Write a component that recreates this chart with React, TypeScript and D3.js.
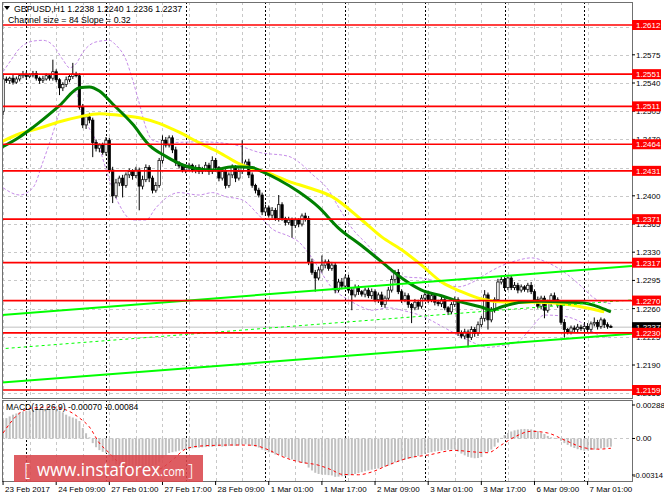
import * as d3 from 'd3'

// GBPUSD H1, 23 Feb 2017 17:00 .. 7 Mar 2017 07:00 (bar index 0..183)
const firstOpen = 1.2505
const closes = [
  1.2545, 1.2543, 1.2546, 1.2541, 1.2545, 1.2549, 1.2551, 1.2548, 1.2550, 1.2552,
  1.2546, 1.2543, 1.2545, 1.2549, 1.2546, 1.2554, 1.2544, 1.2534, 1.2538, 1.2544,
  1.2548, 1.2551, 1.2549, 1.2510, 1.2488, 1.2498, 1.2494, 1.2466, 1.2459, 1.2463,
  1.2454, 1.2469, 1.2432, 1.2400, 1.2416, 1.2422, 1.2413, 1.2426, 1.2430, 1.2425,
  1.2432, 1.2412, 1.2420, 1.2435, 1.2422, 1.2407, 1.2413, 1.2444, 1.2469, 1.2463,
  1.2472, 1.2457, 1.2441, 1.2437, 1.2432, 1.2435, 1.2438, 1.2432, 1.2435, 1.2430,
  1.2433, 1.2438, 1.2430, 1.2444, 1.2435, 1.2422, 1.2430, 1.2413, 1.2426, 1.2435,
  1.2422, 1.2430, 1.2438, 1.2442, 1.2426, 1.2413, 1.2407, 1.2401, 1.2380, 1.2385,
  1.2376, 1.2382, 1.2372, 1.2389, 1.2372, 1.2367, 1.2370, 1.2363, 1.2370, 1.2365,
  1.2375, 1.2372, 1.2318, 1.2305, 1.2298, 1.2308, 1.2314, 1.2318, 1.2310, 1.2314,
  1.2283, 1.2293, 1.2288, 1.2298, 1.2283, 1.2277, 1.2286, 1.2281, 1.2278, 1.2283,
  1.2276, 1.2281, 1.2271, 1.2277, 1.2265, 1.2273, 1.2283, 1.2296, 1.2305, 1.2281,
  1.2271, 1.2276, 1.2265, 1.2261, 1.2268, 1.2263, 1.2273, 1.2277, 1.2271, 1.2276,
  1.2268, 1.2266, 1.2271, 1.2261, 1.2256, 1.2265, 1.2271, 1.2230, 1.2226, 1.2231,
  1.2224, 1.2234, 1.2229, 1.2240, 1.2248, 1.2277, 1.2246, 1.2258, 1.2271, 1.2293,
  1.2296, 1.2286, 1.2298, 1.2286, 1.2289, 1.2283, 1.2287, 1.2284, 1.2289, 1.2281,
  1.2271, 1.2263, 1.2273, 1.2258, 1.2267, 1.2276, 1.2271, 1.2265, 1.2243, 1.2234,
  1.2231, 1.2236, 1.2234, 1.2237, 1.2235, 1.2238, 1.2234, 1.2241, 1.2243, 1.2238,
  1.2246, 1.2240, 1.2238, 1.2237,
]
// wick lengths above / below the body, in pips
const upWick = [
  7, 3, 2, 4, 3, 2, 4, 3, 2, 3, 3, 2, 4, 3, 2, 15, 3, 2, 3, 4,
  3, 14, 3, 3, 4, 3, 5, 3, 4, 2, 3, 4, 3, 4, 5, 3, 4, 3, 4, 3,
  4, 3, 5, 4, 3, 3, 4, 3, 6, 4, 3, 3, 4, 2, 3, 4, 3, 2, 3, 4,
  3, 4, 3, 5, 3, 2, 4, 3, 3, 4, 3, 4, 31, 3, 4, 3, 2, 3, 3, 4,
  3, 4, 3, 12, 3, 2, 4, 3, 3, 2, 3, 4, 3, 4, 3, 4, 12, 3, 3, 4,
  3, 4, 5, 3, 4, 3, 4, 3, 2, 3, 3, 4, 3, 3, 4, 3, 4, 5, 3, 4,
  3, 4, 3, 2, 4, 3, 4, 3, 3, 4, 3, 3, 4, 3, 2, 3, 4, 3, 3, 4,
  3, 4, 3, 4, 3, 6, 3, 4, 3, 4, 4, 3, 2, 3, 4, 3, 3, 2, 3, 4,
  3, 4, 3, 3, 4, 3, 4, 3, 3, 4, 2, 3, 3, 4, 3, 3, 4, 3, 6, 3,
  3, 2, 3, 2,
]
const downWick = [
  5, 3, 4, 3, 2, 3, 3, 4, 2, 3, 3, 4, 3, 2, 3, 3, 3, 9, 4, 3,
  3, 3, 2, 3, 4, 5, 4, 18, 4, 5, 3, 4, 4, 9, 3, 4, 15, 3, 4, 5,
  3, 30, 4, 3, 5, 4, 3, 3, 4, 3, 3, 4, 4, 3, 3, 4, 3, 3, 4, 3,
  3, 3, 4, 3, 5, 4, 3, 4, 3, 4, 5, 3, 3, 3, 4, 3, 4, 3, 4, 5,
  3, 4, 3, 4, 3, 4, 3, 15, 3, 4, 3, 4, 4, 3, 17, 3, 3, 4, 3, 3,
  4, 3, 4, 3, 4, 19, 3, 4, 3, 4, 3, 4, 3, 4, 3, 4, 3, 3, 4, 3,
  4, 3, 4, 19, 3, 4, 3, 3, 4, 3, 4, 3, 4, 3, 4, 3, 3, 4, 3, 4,
  12, 3, 4, 3, 3, 4, 12, 3, 3, 4, 3, 4, 3, 3, 3, 4, 3, 3, 4, 3,
  4, 3, 4, 10, 3, 4, 3, 4, 3, 10, 3, 3, 4, 3, 3, 3, 4, 3, 3, 4,
  3, 4, 3, 1,
]

const priceTicks = [1.2610, 1.2575, 1.2540, 1.2505, 1.2470, 1.2435, 1.2400, 1.2365, 1.2330, 1.2295, 1.2260, 1.2225, 1.2190, 1.2155]
const levels = [1.2612, 1.2551, 1.2511, 1.2464, 1.2431, 1.2371, 1.2317, 1.2270, 1.2230, 1.2159]
const lastPrice = 1.2237
const dateLabels = ['23 Feb 2017', '24 Feb 09:00', '27 Feb 01:00', '27 Feb 17:00', '28 Feb 09:00', '1 Mar 01:00', '1 Mar 17:00', '2 Mar 09:00', '3 Mar 01:00', '3 Mar 17:00', '6 Mar 09:00', '7 Mar 01:00']
const daySeparators = [7, 31, 55, 79, 103, 127, 151, 175]

// [bar, price] readings of the moving averages
const greenMA: [number, number][] = [
  [-1, 1.2459], [5, 1.2473], [9, 1.2485], [17, 1.2512], [23, 1.2534], [26, 1.2535], [29, 1.2530],
  [33, 1.2514], [39, 1.2489], [44, 1.2463], [49, 1.2449], [55, 1.2437], [63, 1.2432], [69, 1.2436],
  [75, 1.2435], [78, 1.2430], [83, 1.2420], [89, 1.2405], [95, 1.2386], [101, 1.2360], [108, 1.2338],
  [114, 1.2318], [120, 1.2298], [126, 1.2283], [132, 1.2276], [138, 1.2268], [144, 1.2262], [147, 1.2258],
  [150, 1.2262], [156, 1.2268], [162, 1.2269], [170, 1.2268], [175, 1.2267], [180, 1.2261], [183, 1.2256],
]
const yellowMA: [number, number][] = [
  [-1, 1.2466], [5, 1.2477], [11, 1.2484], [17, 1.2492], [23, 1.2498], [29, 1.2502], [35, 1.2500],
  [41, 1.2497], [47, 1.2490], [53, 1.2479], [59, 1.2466], [65, 1.2454], [71, 1.2440], [80, 1.2428],
  [86, 1.2418], [92, 1.2410], [99, 1.2399], [108, 1.2370], [114, 1.2349], [120, 1.2333], [126, 1.2314],
  [132, 1.2293], [138, 1.2281], [144, 1.2272], [152, 1.2268], [160, 1.2268], [166, 1.2267], [172, 1.2264],
  [178, 1.2259], [181, 1.2256],
]
// [bar, price] readings of the dashed envelope bands
const bandUpper: [number, number][] = [
  [0, 1.2554], [2, 1.2566], [5, 1.2583], [9, 1.2592], [12, 1.2593], [15, 1.2587], [18, 1.2569], [20, 1.2559],
  [22, 1.2564], [24, 1.2578], [28, 1.2591], [32, 1.2593], [34, 1.2587], [37, 1.2569], [39, 1.2544], [41, 1.2515],
  [43, 1.2485], [45, 1.2469], [49, 1.2466], [59, 1.2467], [65, 1.2466], [71, 1.2462], [77, 1.2454], [86, 1.2449],
  [89, 1.2442], [93, 1.2427], [98, 1.2407], [101, 1.2386], [105, 1.2360], [110, 1.2338], [114, 1.2318], [117, 1.2305],
  [122, 1.2299], [126, 1.2298], [132, 1.2292], [137, 1.2287], [141, 1.2292], [145, 1.2302], [150, 1.2313], [155, 1.2320],
  [159, 1.2323], [164, 1.2317], [170, 1.2302], [174, 1.2288], [178, 1.2273], [183, 1.2266],
]
const bandLower: [number, number][] = [
  [0, 1.2410], [5, 1.2401], [9, 1.2410], [12, 1.2442], [15, 1.2478], [17, 1.2504], [19, 1.2523], [22, 1.2529],
  [23, 1.2513], [25, 1.2492], [29, 1.2459], [32, 1.2420], [35, 1.2389], [39, 1.2370], [43, 1.2370], [46, 1.2385],
  [49, 1.2397], [53, 1.2404], [59, 1.2401], [63, 1.2404], [67, 1.2399], [72, 1.2395], [77, 1.2376], [81, 1.2359],
  [86, 1.2350], [89, 1.2343], [93, 1.2323], [99, 1.2286], [104, 1.2271], [108, 1.2262], [111, 1.2258], [116, 1.2261],
  [120, 1.2258], [126, 1.2251], [133, 1.2236], [138, 1.2225], [142, 1.2217], [146, 1.2212], [150, 1.2214], [155, 1.2219],
  [159, 1.2236], [163, 1.2252], [168, 1.2251], [174, 1.2243], [178, 1.2230], [183, 1.2224],
]
// regression channel, end points at bars -1 and 190
const channelBars = [-1, 190]
const channelUpper = [1.2252, 1.2313]
const channelMid = [1.2210, 1.2271]
const channelLower = [1.2168, 1.2229]

// MACD(12,26,9) histogram, in 0.00001
const macdHist = [
  160, 175, 190, 205, 215, 225, 232, 238, 242, 246, 250, 252, 254, 255, 254, 252, 248, 240, 225, 205,
  190, 180, 170, 150, 90, 45, 10, -40, -75, -100, -115, -125, -150, -195, -225, -245, -260, -268, -270, -268,
  -262, -265, -262, -255, -245, -238, -228, -205, -170, -145, -125, -118, -112, -105, -98, -92, -88, -84, -80, -78,
  -76, -74, -70, -72, -68, -66, -70, -68, -64, -62, -64, -60, -52, -50, -55, -62, -70, -78, -95, -105,
  -118, -125, -138, -140, -150, -160, -170, -180, -190, -200, -210, -215, -250, -275, -295, -305, -310, -312, -315, -318,
  -330, -328, -325, -322, -318, -312, -305, -298, -290, -282, -275, -268, -262, -258, -250, -242, -235, -222, -205, -200,
  -190, -182, -175, -170, -160, -150, -140, -132, -124, -118, -112, -108, -104, -100, -98, -96, -95, -112, -130, -145,
  -158, -165, -170, -168, -160, -120, -115, -95, -70, -35, 5, 30, 48, 60, 70, 76, 80, 82, 80, 78,
  72, 64, 50, 38, 22, 10, 5, -2, -20, -40, -55, -70, -82, -92, -100, -105, -102, -98, -95, -90,
  -85, -80, -75, -70,
]
const macdSignal: [number, number][] = [
  [0, 47], [5, 219], [9, 262], [14, 270], [19, 245], [23, 176], [26, 99], [29, -39], [32, -125], [35, -211],
  [39, -262], [43, -285], [47, -265], [51, -185], [55, -90], [59, -66], [65, -58], [69, -56], [75, -58], [80, -99],
  [84, -155], [89, -200], [95, -230], [99, -271], [102, -308], [107, -312], [111, -288], [116, -228], [122, -168],
  [128, -142], [136, -102], [141, -114], [146, -122], [150, -56], [154, 13], [159, 62], [164, 47], [169, -13],
  [175, -80], [179, -92], [183, -84],
]
const macdTicks = [0.00288, 0, -0.00314]

const FONT = '"Liberation Sans", Arial, sans-serif'
const L = 2, R = 632, TOP = 2, MAIN_B = 398, M_TOP = 400, M_B = 481

export default function App() {
  const x = d3.scaleLinear().domain([7, 175]).range([26.3, 584.3])
  const y = d3.scaleLinear().domain([1.2159, 1.2612]).range([390, 25])
  const ym = d3.scaleLinear().domain([-0.00314, 0.00288]).range([475, 405])
  const pip = 0.0001

  const bars = closes.map((c, i) => {
    const o = i === 0 ? firstOpen : closes[i - 1]
    const hi = Math.max(o, c) + upWick[i] * pip
    const lo = Math.min(o, c) - downWick[i] * pip
    return { i, o, c, hi, lo }
  })

  const line = d3.line<[number, number]>().x(d => x(d[0])).y(d => y(d[1])).curve(d3.curveMonotoneX)
  const macdLine = d3.line<[number, number]>().x(d => x(d[0])).y(d => ym(d[1] / 100000)).curve(d3.curveMonotoneX)
  const chan = (p: number[]) => d3.line<number>().x((_, k) => x(channelBars[k])).y(d => y(d))(p) as string

  const gridBars = d3.range(0, 184, 8)
  const zero = ym(0)

  return (
    <svg width={664} height={498} style={{ position: 'absolute', left: 0, top: 0, display: 'block', background: '#fff' }}
      fontFamily={FONT}>
      <defs>
        <clipPath id="main"><rect x={L} y={TOP} width={R - L} height={MAIN_B - TOP} /></clipPath>
        <clipPath id="macd"><rect x={L} y={M_TOP} width={R - L} height={M_B - M_TOP} /></clipPath>
      </defs>
      <rect width={664} height={498} fill="#fff" />

      {/* grid */}
      {priceTicks.map(p => (
        <line key={p} x1={L} x2={R} y1={Math.round(y(p)) + 0.5} y2={Math.round(y(p)) + 0.5}
          stroke="#c8c8c8" strokeDasharray="3,3" />
      ))}
      <line x1={L} x2={R} y1={Math.round(zero) + 0.5} y2={Math.round(zero) + 0.5} stroke="#c8c8c8" strokeDasharray="3,3" />
      {gridBars.map(b => (
        <g key={b}>
          <line x1={Math.round(x(b)) + 0.5} x2={Math.round(x(b)) + 0.5} y1={TOP} y2={MAIN_B} stroke="#c8c8c8" strokeDasharray="3,3" />
          <line x1={Math.round(x(b)) + 0.5} x2={Math.round(x(b)) + 0.5} y1={M_TOP} y2={M_B} stroke="#c8c8c8" strokeDasharray="3,3" />
        </g>
      ))}
      {daySeparators.map(b => (
        <g key={b}>
          <line x1={Math.round(x(b)) + 0.5} x2={Math.round(x(b)) + 0.5} y1={TOP} y2={MAIN_B} stroke="#000" strokeDasharray="2,2" />
          <line x1={Math.round(x(b)) + 0.5} x2={Math.round(x(b)) + 0.5} y1={M_TOP} y2={M_B} stroke="#000" strokeDasharray="2,2" />
        </g>
      ))}

      <g clipPath="url(#main)">
        {/* envelope bands */}
        <path d={line(bandUpper) as string} fill="none" stroke="#c58be8" strokeWidth={1} strokeDasharray="3,2" />
        <path d={line(bandLower) as string} fill="none" stroke="#c58be8" strokeWidth={1} strokeDasharray="3,2" />

        {/* bid line */}
        <line x1={L} x2={R} y1={y(lastPrice)} y2={y(lastPrice)} stroke="#c0c0c0" strokeWidth={1} />

        {/* candles */}
        {bars.map(b => {
          const cx = x(b.i)
          const bull = b.c >= b.o
          const top = y(Math.max(b.o, b.c))
          const h = Math.max(1, y(Math.min(b.o, b.c)) - top)
          return (
            <g key={b.i}>
              <line x1={cx} x2={cx} y1={y(b.hi)} y2={y(b.lo)} stroke="#000" strokeWidth={1} />
              <rect x={cx - 1.2} y={top} width={2.4} height={h} fill={bull ? '#fff' : '#000'} stroke="#000" strokeWidth={0.7} />
            </g>
          )
        })}

        {/* moving averages */}
        <path d={line(yellowMA) as string} fill="none" stroke="#ffff00" strokeWidth={3} />
        <path d={line(greenMA) as string} fill="none" stroke="#008000" strokeWidth={3} />

        {/* channel */}
        <path d={chan(channelMid)} fill="none" stroke="#00ff00" strokeWidth={1} strokeDasharray="3,3" />
        <path d={chan(channelUpper)} fill="none" stroke="#00ff00" strokeWidth={2} />
        <path d={chan(channelLower)} fill="none" stroke="#00ff00" strokeWidth={2} />

        {/* levels */}
        {levels.map(p => (
          <line key={p} x1={L} x2={R} y1={y(p)} y2={y(p)} stroke="#ff0000" strokeWidth={1.7} />
        ))}
      </g>

      {/* MACD */}
      <g clipPath="url(#macd)">
        {macdHist.map((v, i) => {
          const yy = ym(v / 100000)
          return <rect key={i} x={x(i) - 1} y={Math.min(yy, zero)} width={2} height={Math.max(0.5, Math.abs(yy - zero))} fill="#c0c0c0" />
        })}
        <path d={macdLine(macdSignal) as string} fill="none" stroke="#ff0000" strokeWidth={1} strokeDasharray="3,3" />
      </g>

      {/* frames */}
      <rect x={L + 0.5} y={TOP + 0.5} width={R - L} height={MAIN_B - TOP} fill="none" stroke="#707070" />
      <rect x={L + 0.5} y={M_TOP + 0.5} width={R - L} height={M_B - M_TOP} fill="none" stroke="#707070" />

      {/* price axis */}
      {priceTicks.map(p => (
        <g key={p}>
          <line x1={R} x2={R + 3} y1={y(p)} y2={y(p)} stroke="#000" />
          <text x={R + 4} y={y(p) + 3} fontSize={8} fill="#000">{p.toFixed(4)}</text>
        </g>
      ))}
      <rect x={R} y={y(lastPrice) - 5} width={29} height={10} fill="#000" />
      <text x={R + 4} y={y(lastPrice) + 3} fontSize={8} fill="#fff">{lastPrice.toFixed(4)}</text>
      {levels.map(p => (
        <g key={p}>
          <rect x={R} y={y(p) - 5} width={29} height={10} fill="#ff0000" />
          <text x={R + 4} y={y(p) + 3} fontSize={8} fill="#fff">{p.toFixed(4)}</text>
        </g>
      ))}
      {macdTicks.map(v => (
        <g key={v}>
          <line x1={R} x2={R + 3} y1={ym(v)} y2={ym(v)} stroke="#000" />
          <text x={v < 0 ? R + 1 : R + 4} y={ym(v) + 3} fontSize={v < 0 ? 7.6 : 8} fill="#000">{v === 0 ? '0.00' : v.toFixed(5)}</text>
        </g>
      ))}

      {/* time axis */}
      {dateLabels.map((s, k) => (
        <g key={s}>
          <line x1={x(k * 16)} x2={x(k * 16)} y1={M_B} y2={M_B + 4} stroke="#000" />
          <text x={x(k * 16) + 2} y={492} fontSize={8} fill="#000">{s}</text>
        </g>
      ))}

      {/* captions */}
      <path d="M4,6 L10,6 L7,10 Z" fill="#000" />
      <text x={14} y={12} fontSize={8.8} fill="#000">GBPUSD,H1  1.2238 1.2240 1.2236 1.2237</text>
      <text x={8} y={23} fontSize={8.8} fill="#000">Channel size = 84 Slope = 0.32</text>
      <text x={6} y={410} fontSize={8.6} fill="#000">MACD(12,26,9) -0.00070 -0.00084</text>

      {/* logo */}
      <rect x={14} y={455} width={189} height={27} fill="#d9474c" opacity={0.88} />
      <text x={24} y={476} fontSize={19} fill="#fff" fontFamily='"Open Sans", sans-serif' fontWeight={300}>[</text>
      <text x={37} y={476} fontSize={19} fill="#fff" fontFamily='"Open Sans", sans-serif' textLength={123} lengthAdjust="spacingAndGlyphs">www.instaforex</text>
      <text x={160} y={476} fontSize={13} fill="#fff" fontFamily='"Open Sans", sans-serif' textLength={25} lengthAdjust="spacingAndGlyphs">.com</text>
      <text x={188} y={476} fontSize={17} fill="#fff" fontFamily='"Open Sans", sans-serif' fontWeight={300}>]</text>
    </svg>
  )
}
